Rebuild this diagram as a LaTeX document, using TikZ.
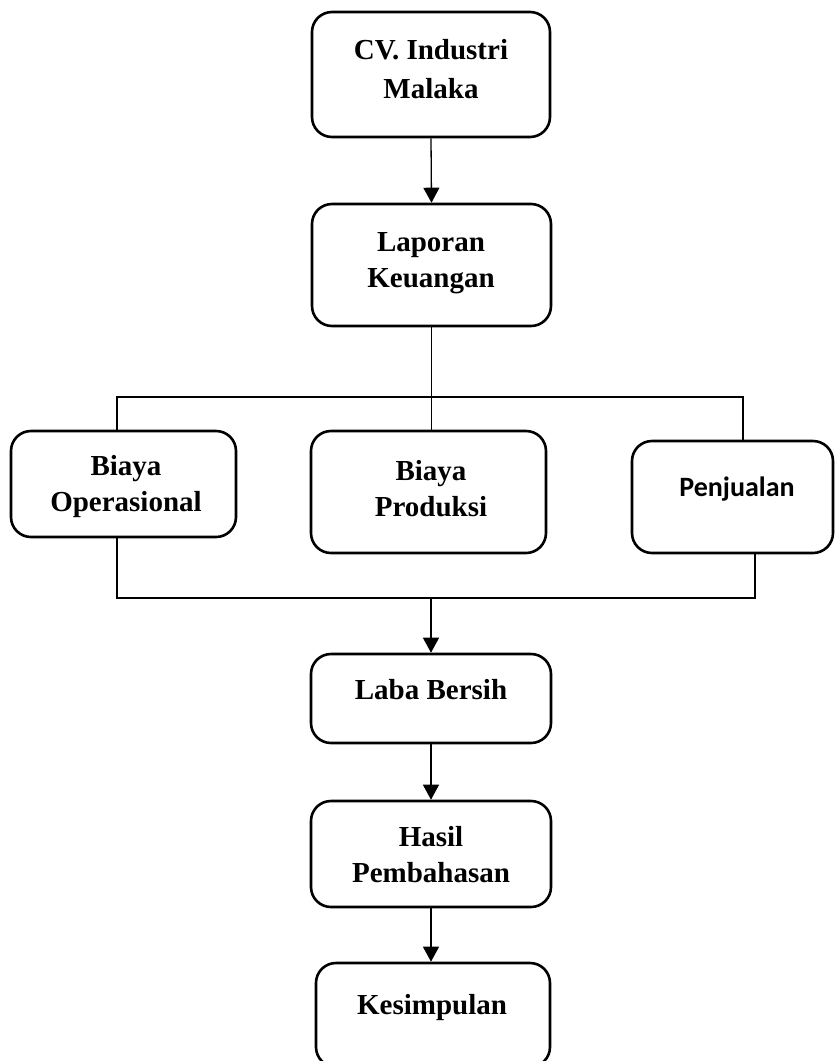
\documentclass[tikz,border=0pt]{standalone}
\usepackage{fontspec}
\setmainfont{Liberation Serif}
\newfontfamily\calib{Carlito}
\usetikzlibrary{arrows.meta}
\begin{document}
\begin{tikzpicture}[x=1pt,y=-1pt,
  box/.style={draw,line width=2.6pt,rounded corners=20pt,inner sep=0pt},
  txt/.style={font=\bfseries\fontsize{29}{36}\selectfont,align=center,inner sep=0pt},
  conn/.style={line width=1.3pt},
  arr/.style={line width=1.3pt,-{Triangle[width=16pt,length=15pt]}}]
\useasboundingbox (0,0) rectangle (836,1061);
% boxes
\node[box,minimum width=238pt,minimum height=125pt] (b1) at (431,74.5) {};
\node[box,minimum width=239pt,minimum height=122pt] (b2) at (431.5,265) {};
\node[box,minimum width=225pt,minimum height=106pt] (bo) at (123.5,484) {};
\node[box,minimum width=235pt,minimum height=122pt] (bp) at (428.5,492) {};
\node[box,minimum width=201pt,minimum height=112pt] (pj) at (732.5,497) {};
\node[box,minimum width=240pt,minimum height=89pt] (lb) at (431,698.5) {};
\node[box,minimum width=240pt,minimum height=106pt] (hp) at (431,854) {};
\node[box,minimum width=234pt,minimum height=104pt] (ks) at (433,1015) {};
% texts
\node[txt,font=\bfseries\fontsize{29}{39}\selectfont] (t1) at (431,69) {CV. Industri\\Malaka};
\node[txt] (t2) at (431,263) {Laporan\\Keuangan};
\node[txt] (to) at (126,487) {Biaya\\Operasional};
\node[txt] (tp) at (431,489) {Biaya\\Produksi};
\node[txt,font=\calib\bfseries\fontsize{28}{34}\selectfont] (tj) at (737,489) {Penjualan};
\node[txt] (tl) at (431,690) {Laba Bersih};
\node[txt] (th) at (431,855) {Hasil\\Pembahasan};
\node[txt] (tk) at (432,1008) {Kesimpulan};
% junction coordinates
\coordinate (jl) at (117,397);
\coordinate (jr) at (743,397);
\coordinate (kl) at (117,598);
\coordinate (kr) at (755,598);
\coordinate (km) at (431,598);
% connectors
\draw[arr] (b1.south) -- (b2.north);
\draw[conn] (b2.south) -- (b2.south |- bp.north);
\draw[conn] (jl |- bo.north) -- (jl) -- (jr) -- (jr |- pj.north);
\draw[conn] (kl |- bo.south) -- (kl) -- (kr) -- (kr |- pj.south);
\draw[arr] (km) -- (km |- lb.north);
\draw[arr] (lb.south) -- (hp.north);
\draw[arr] (hp.south) -- (hp.south |- ks.north);
\end{tikzpicture}
\end{document}
